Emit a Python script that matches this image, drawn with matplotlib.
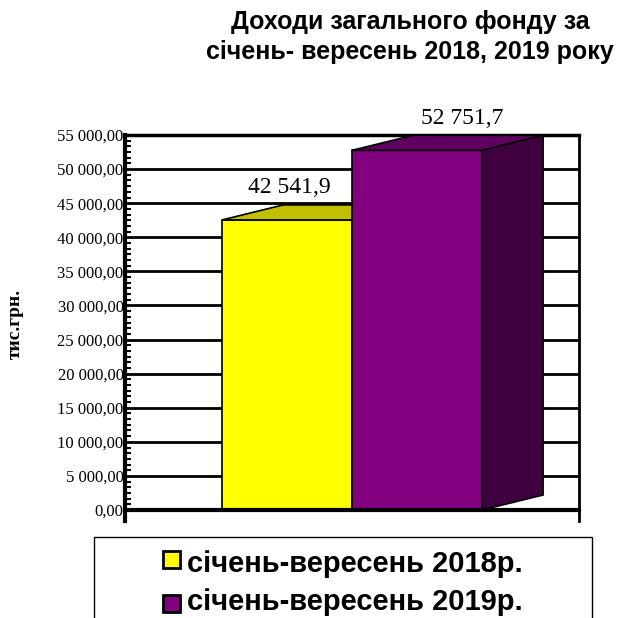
import matplotlib
matplotlib.use("Agg")
import matplotlib.pyplot as plt
from matplotlib.patches import Polygon, Rectangle
from matplotlib.ticker import MultipleLocator, AutoMinorLocator, FuncFormatter

title = "Доходи загального фонду за\nсічень- вересень 2018, 2019 року"
y_label = "тис.грн."
series = ["січень-вересень 2018р.", "січень-вересень 2019р."]
values = [42541.9, 52751.7]
value_labels = ["42 541,9", "52 751,7"]
front_colors = ["#FFFF00", "#800080"]
top_colors = ["#C0C000", "#600060"]
side_colors = ["#A0A000", "#400040"]

W, H = 621, 618
fig = plt.figure(figsize=(W / 100, H / 100), dpi=100)

# plot area in pixels: x 125..579, y 135..510
ax = fig.add_axes([125 / W, 1 - 510 / H, (579 - 125) / W, (510 - 135) / H])
ax.set_ylim(0, 55000)
ax.set_xlim(-1.246, -1.246 + 454 / 130)

def fmt(v, pos):
    return f"{v:,.2f}".replace(",", " ").replace(".", ",")

ax.yaxis.set_major_locator(MultipleLocator(5000))
ax.yaxis.set_minor_locator(AutoMinorLocator(6))
ax.yaxis.set_major_formatter(FuncFormatter(fmt))
ax.tick_params(axis="y", which="major", direction="in", length=0, labelsize=12, pad=1)
ax.tick_params(axis="y", which="minor", direction="in", length=4, width=1.5)
ax.tick_params(axis="y", which="both", right=False)
for lab in ax.get_yticklabels():
    lab.set_fontfamily("Liberation Serif")
ax.set_xticks([])
ax.spines["bottom"].set_visible(False)
ax.spines["top"].set_linewidth(2.5)
ax.spines["left"].set_linewidth(3)
ax.spines["right"].set_linewidth(2)
ax.grid(axis="y", color="black", linewidth=2)
ax.set_axisbelow(True)

dx, dy = 0.47, 2200
width = 1.0
label_shift = [0.02, 0.35]
for i, v in enumerate(values):
    x0, x1 = i - width / 2, i + width / 2
    ax.add_patch(Rectangle((x0, 0), width, v, facecolor=front_colors[i], edgecolor="black", lw=1.2, zorder=3))
    ax.add_patch(Polygon([(x0, v), (x0 + dx, v + dy), (x1 + dx, v + dy), (x1, v)], closed=True,
                         facecolor=top_colors[i], edgecolor="black", lw=1.2, zorder=3))
    if i == len(values) - 1:
        ax.add_patch(Polygon([(x1, 0), (x1 + dx, dy), (x1 + dx, v + dy), (x1, v)], closed=True,
                             facecolor=side_colors[i], edgecolor="black", lw=1.2, zorder=3))
    ax.text(i + label_shift[i], v + dy + 1000, value_labels[i], ha="center", va="bottom",
            fontsize=17, fontfamily="Liberation Serif", zorder=5, clip_on=False)

# baseline with end ticks
ax.plot([0, 1], [0, 0], transform=ax.transAxes, color="black", lw=3, clip_on=False, zorder=4)
for xe, lw in [(0, 3), (1, 2)]:
    ax.plot([xe, xe], [0, -0.03], transform=ax.transAxes, color="black", lw=lw, clip_on=False, zorder=4)

fig.text(15 / W, 1 - 324 / H, y_label, rotation=90, ha="center", va="center",
         fontsize=14, fontweight="bold", fontfamily="Liberation Serif")

fig.text(410 / W, 1 - 37 / H, title, ha="center", va="center", fontsize=18,
         fontweight="bold", fontfamily="Liberation Sans", linespacing=1.3)

# legend box (runs past the bottom edge)
fig.patches.append(Rectangle((94 / W, -0.05), (592 - 94) / W, 0.05 + (618 - 537) / H,
                             transform=fig.transFigure, facecolor="white", edgecolor="black", lw=1))
for i, name in enumerate(series):
    yb = 572 + i * 38
    ym = 559 + i * 44
    fig.patches.append(Rectangle((163 / W, 1 - (ym + 8.5) / H), 17 / W, 17 / H, transform=fig.transFigure,
                                 facecolor=front_colors[i], edgecolor="black", lw=2))
    fig.text(187 / W, 1 - yb / H, name, ha="left", va="baseline", fontsize=21,
             fontweight="bold", fontfamily="Liberation Sans")

fig.savefig("out.png", dpi=100)
